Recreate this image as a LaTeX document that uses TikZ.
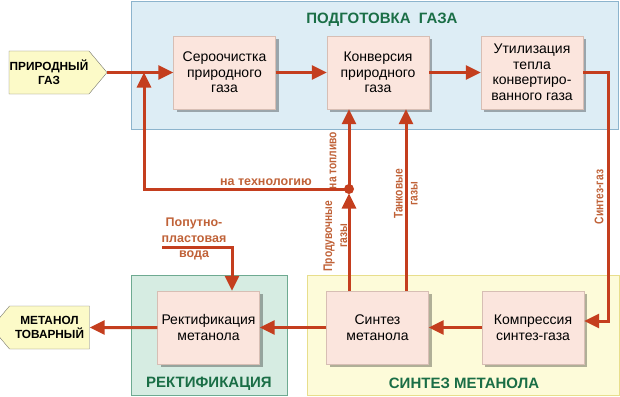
\documentclass[tikz,border=0pt]{standalone}
\usepackage{fontspec}
\setmainfont{Liberation Sans}
\newfontfamily\narrowsans[FakeStretch=0.82]{Liberation Sans}
\usetikzlibrary{positioning,arrows.meta,shapes.symbols,shadows}
\definecolor{flowred}{RGB}{196,62,30}
\definecolor{tagbrown}{RGB}{192,98,56}
\definecolor{titlegreen}{RGB}{26,110,70}
\definecolor{unitfill}{RGB}{251,229,221}
\definecolor{unitline}{RGB}{215,190,180}
\definecolor{prepfill}{RGB}{221,237,245}
\definecolor{prepline}{RGB}{140,180,205}
\definecolor{rectfill}{RGB}{214,236,226}
\definecolor{rectline}{RGB}{110,170,145}
\definecolor{synfill}{RGB}{253,251,217}
\definecolor{synline}{RGB}{232,222,140}
\definecolor{endfill}{RGB}{252,250,200}
\definecolor{endline}{RGB}{120,120,110}

\begin{document}
\begin{tikzpicture}[x=1pt,y=-1pt,font=\fontsize{14}{15.5}\selectfont,
  region/.style={draw,line width=0.8pt,inner sep=0pt},
  unit/.style={draw=unitline,fill=unitfill,align=center,minimum width=102pt,minimum height=73pt,inner sep=1pt,
    drop shadow={shadow xshift=3pt,shadow yshift=-3pt,fill=black,opacity=0.3}},
  title/.style={font=\fontsize{15}{17}\selectfont\bfseries,text=titlegreen},
  tag/.style={font=\fontsize{12.5}{15.5}\selectfont\bfseries,text=tagbrown,align=center,inner sep=1pt},
  vtag/.style={tag,rotate=90,font=\fontsize{12.5}{15}\selectfont\narrowsans\bfseries},
  ends/.style={signal,draw=endline,fill=endfill,font=\fontsize{11.8}{14}\selectfont\bfseries,align=center,
    minimum width=98pt,minimum height=43pt,inner sep=0pt,signal pointer angle=100},
  flow/.style={-{Triangle[length=15pt,width=14pt]},line width=3pt,draw=flowred}]
\useasboundingbox (0,0) rectangle (620,396);
% zones
\node[region,draw=prepline,fill=prepfill,minimum width=487pt,minimum height=128pt] (prep) at (374.5,65) {};
\node[region,draw=rectline,fill=rectfill,minimum width=156pt,minimum height=120pt] (rectzone) at (209,335) {};
\node[region,draw=synline,fill=synfill,minimum width=312pt,minimum height=120pt] (synzone) at (463,335) {};
\node[title] (preptitle) at (382,20) {ПОДГОТОВКА\ \ ГАЗА};
\node[title] (recttitle) at (209,384) {РЕКТИФИКАЦИЯ};
\node[title] (syntitle) at (464,383) {СИНТЕЗ МЕТАНОЛА};
% units
\node[unit] (desulf) at (224.5,72.5) {Сероочистка\\природного\\газа};
\node[unit] (conv) at (378,72.5) {Конверсия\\природного\\газа};
\node[unit] (heat) at (532,72.5) {Утилизация\\тепла\\конвертиро-\\ванного газа};
\node[unit] (rect) at (208.5,327.5) {Ректификация\\метанола};
\node[unit] (synth) at (377.5,327.5) {Синтез\\метанола};
\node[unit] (comp) at (533,327.5) {Компрессия\\синтез-газа};
\node[ends,signal to=east] (gas) at (49,72.5) {ПРИРОДНЫЙ\\ГАЗ};
\node[ends,signal to=west] (meth) at (49.5,327.5) {МЕТАНОЛ\\ТОВАРНЫЙ};
% labels
\node[tag] (techlabel) at (266,182) {на технологию};
\node[vtag] (fuellabel) at (333,160.5) {на топливо};
\node[vtag] (purgelabel) at (335.5,236) {Продувочные\\газы};
\node[vtag] (tanklabel) at (406,194) {Танковые\\газы};
\node[vtag] (sglabel) at (599,197) {Синтез-газ};
\node[tag] (waterlabel) at (194,239) {Попутно-\\пластовая\\вода};
% connectors
\coordinate (mix) at (144,72.5);
\coordinate (split) at (349,189);
\coordinate (tank) at (406,189);
\coordinate (sgturn) at (608,321);
\coordinate (water) at (162,247);
\draw[flow] (gas.east) -- (desulf.west);
\draw[flow] (desulf) -- (conv);
\draw[flow] (conv) -- (heat);
\draw[flow] (heat.east) -| (sgturn) -- (sgturn -| comp.east);
\draw[flow] (comp) -- (synth);
\draw[flow] (synth) -- (rect);
\draw[flow] (rect) -- (meth);
\draw[flow] (split |- synth.north) -- ([yshift=-4.5pt]split);
\draw[flow] (split) -- (split |- conv.south);
\draw[flow] (split) -- (split -| mix) -- (mix);
\draw[flow] (tank |- synth.north) -- (tank |- conv.south);
\draw[flow] (water) -| ([xshift=23.5pt]rect.north);
\fill[flowred] (split) circle (5pt);
\end{tikzpicture}
\end{document}
